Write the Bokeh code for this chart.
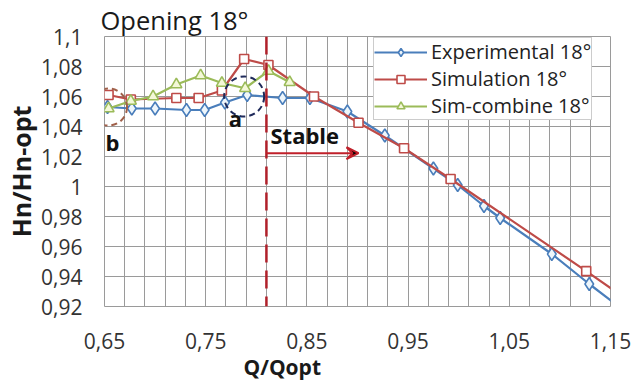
from bokeh.plotting import figure
from bokeh.models import (Range1d, FixedTicker, Legend, LegendItem, Label, Span,
                          Arrow, VeeHead, Title)
from bokeh.embed import file_html
from bokeh.resources import INLINE

# Measured head curves, opening 18 deg
exp_q = [0.653, 0.677, 0.700, 0.731, 0.749, 0.769, 0.791, 0.826, 0.853, 0.890,
         0.927, 0.975, 0.999, 1.025, 1.041, 1.092, 1.129, 1.170]
exp_h = [1.053, 1.052, 1.052, 1.051, 1.051, 1.056, 1.061, 1.059, 1.059, 1.050,
         1.034, 1.012, 1.001, 0.987, 0.979, 0.955, 0.935, 0.914]

sim_q = [0.654, 0.676, 0.721, 0.743, 0.766, 0.788, 0.812, 0.857, 0.901, 0.946,
         0.992, 1.126, 1.170]
sim_h = [1.061, 1.058, 1.059, 1.059, 1.064, 1.085, 1.081, 1.060, 1.0425, 1.0255,
         1.005, 0.9436, 0.923]

comb_q = [0.654, 0.676, 0.698, 0.721, 0.745, 0.766, 0.789, 0.812, 0.833]
comb_h = [1.052, 1.057, 1.060, 1.068, 1.074, 1.069, 1.0655, 1.077, 1.0695]

# Stability limit and highlighted zones
stable_q = 0.81
zone_a = (0.788, 1.060)
zone_b = (0.654, 1.053)

x_ticks = [0.65, 0.75, 0.85, 0.95, 1.05, 1.15]
x_tick_labels = ["0,65", "0,75", "0,85", "0,95", "1,05", "1,15"]
y_ticks = [0.92, 0.94, 0.96, 0.98, 1.0, 1.02, 1.04, 1.06, 1.08, 1.1]
y_tick_labels = ["0,92", "0,94", "0,96", "0,98", "1", "1,02", "1,04", "1,06", "1,08", "1,1"]

FONT = "Open Sans"
BLUE = "#4a7ebb"
RED = "#be4b48"
GREEN = "#9bbb59"
GRID = "#9a9a9a"
TEXT = "#1a1a1a"

p = figure(width=634, height=383, output_backend="svg", toolbar_location=None,
           x_range=Range1d(0.65, 1.15), y_range=Range1d(0.92, 1.1))
p.min_border_left = 104
p.min_border_right = 24
p.min_border_top = 36
p.min_border_bottom = 77
p.outline_line_color = GRID
p.outline_line_width = 1
p.background_fill_color = "white"
p.border_fill_color = "white"

# Chart title, left aligned over the plot area
p.title.text = "Opening 18°"
p.title.align = "left"
p.title.offset = -4
p.title.standoff = 0
p.title.text_font = FONT
p.title.text_font_size = "25.5px"
p.title.text_font_style = "normal"
p.title.text_color = TEXT

minor_x = [round(0.65 + 0.02 * i, 4) for i in range(26)]
p.xaxis.ticker = FixedTicker(ticks=x_ticks, minor_ticks=minor_x)
p.yaxis.ticker = FixedTicker(ticks=y_ticks)
p.xaxis.major_label_overrides = dict(zip(x_ticks, x_tick_labels))
p.yaxis.major_label_overrides = dict(zip(y_ticks, y_tick_labels))

for ax in (p.xaxis, p.yaxis):
    ax.axis_line_color = None
    ax.major_tick_line_color = None
    ax.minor_tick_line_color = None
    ax.major_tick_out = 0
    ax.major_tick_in = 0
    ax.minor_tick_out = 0
    ax.minor_tick_in = 0
    ax.major_label_text_font = FONT
    ax.major_label_text_font_size = "21px"
    ax.major_label_text_color = "#333333"
p.xaxis.major_label_standoff = 26
p.yaxis.major_label_standoff = 22

p.yaxis.axis_label = "Hn/Hn-opt"
p.yaxis.axis_label_standoff = 0
p.yaxis.axis_label_text_font = FONT
p.yaxis.axis_label_text_font_size = "25px"
p.yaxis.axis_label_text_font_style = "bold"
p.yaxis.axis_label_text_color = TEXT

# Horizontal axis title sits left of centre, under the 0,85 label
p.add_layout(Title(text="Q/Qopt", align="left", offset=139, standoff=2,
                   vertical_align="top",
                   text_font=FONT, text_font_size="21px", text_font_style="bold",
                   text_color=TEXT), "below")

p.xgrid.grid_line_color = GRID
p.xgrid.minor_grid_line_color = GRID
p.ygrid.grid_line_color = GRID

# Stability limit
p.add_layout(Span(location=stable_q, dimension="height", line_color="#b0202a",
                  line_width=2.5, line_dash="18 8"))

r_exp = p.line(exp_q, exp_h, line_color=BLUE, line_width=2.2)
m_exp = p.scatter(exp_q, exp_h, marker="diamond", size=13, line_color=BLUE,
                  line_width=1.6, fill_color="#eef6fb")
r_sim = p.line(sim_q, sim_h, line_color=RED, line_width=2.2)
m_sim = p.scatter(sim_q, sim_h, marker="square", size=9, line_color=RED,
                  line_width=1.6, fill_color="white")
r_comb = p.line(comb_q, comb_h, line_color=GREEN, line_width=2.2)
m_comb = p.scatter(comb_q, comb_h, marker="triangle", size=11, line_color=GREEN,
                   line_width=1.6, fill_color="#f4f8d8")

# Dashed rings around zones a and b
p.scatter([zone_a[0]], [zone_a[1]], marker="circle", size=40, fill_alpha=0,
          line_color="#1f2a5a", line_width=2, line_dash="6 4")
p.scatter([zone_b[0]], [zone_b[1]], marker="circle", size=37, fill_alpha=0,
          line_color="#a0604a", line_width=2, line_dash="6 4")

legend = Legend(items=[
    LegendItem(label="Experimental 18°", renderers=[r_exp, m_exp]),
    LegendItem(label="Simulation 18°", renderers=[r_sim, m_sim]),
    LegendItem(label="Sim-combine 18°", renderers=[r_comb, m_comb]),
], location=(269, 186))
legend.label_text_font = FONT
legend.label_text_font_size = "20px"
legend.label_text_color = "#222222"
legend.glyph_width = 53
legend.glyph_height = 20
legend.label_height = 20
legend.spacing = 0
legend.padding = 0
legend.margin = 0
legend.label_standoff = 4
legend.border_line_color = GRID
legend.background_fill_color = "white"
legend.background_fill_alpha = 1
p.add_layout(legend)

# Stable region arrow
p.add_layout(Arrow(x_start=stable_q, y_start=1.0222, x_end=0.901, y_end=1.0222,
                   line_color="#c0202a", line_width=2,
                   end=VeeHead(size=12, line_color="#c0202a", line_width=2)))

def add_label(text, x, y, size, bold=False, align="left"):
    p.add_layout(Label(x=x, y=y, text=text, text_font=FONT, text_font_size=size,
                       text_font_style="bold" if bold else "normal",
                       text_color="#111111", text_align=align,
                       text_baseline="middle"))

add_label("Stable", 0.814, 1.0343, "22px", bold=True)
add_label("a", 0.7794, 1.046, "22px", bold=True, align="center")
add_label("b", 0.6579, 1.030, "22px", bold=True, align="center")

open("out.html", "w").write(file_html(p, INLINE))
